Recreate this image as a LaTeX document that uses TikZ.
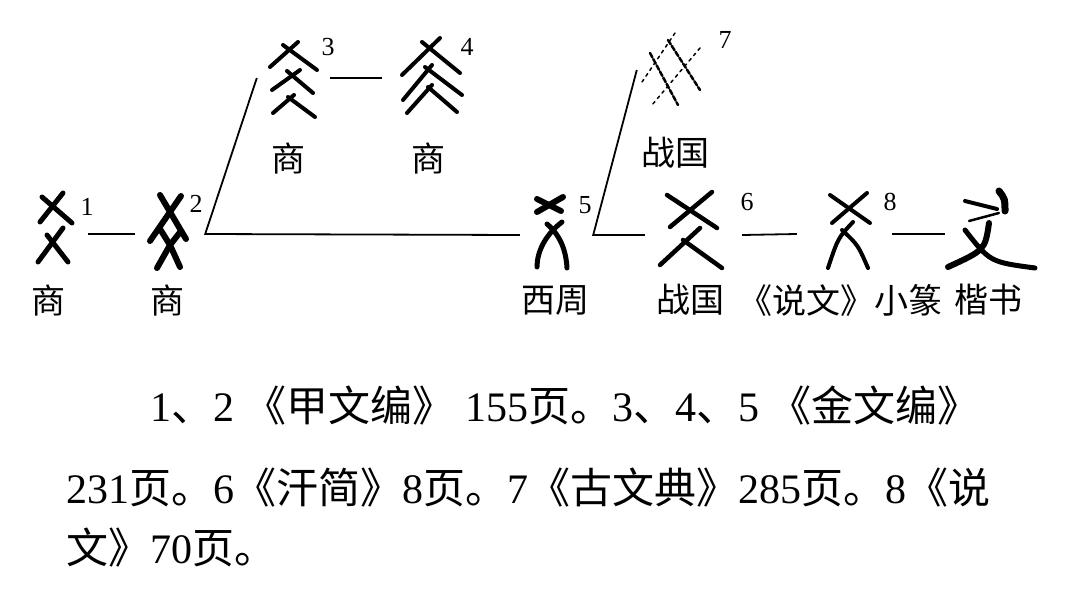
\documentclass[tikz,border=0pt]{standalone}
\usepackage{fontspec}
\setmainfont{Liberation Serif}
\newfontfamily\cjk{Noto Sans CJK SC}

\tikzset{
  glyph/.style={inner sep=0pt,minimum height=80pt},
  stroke/.style={line width=5pt,line cap=round},
  faint/.style={line width=2.5pt,line cap=round,dash pattern=on 5pt off 2pt},
  link/.style={line width=1.8pt},
  idx/.style={font=\fontsize{26}{26}\selectfont,inner sep=0pt},
  era/.style={font=\cjk\fontsize{34}{34}\selectfont,inner sep=0pt},
  note/.style={font=\fontsize{42}{42}\selectfont,inner sep=0pt,anchor=west}
}

\begin{document}
\begin{tikzpicture}[x=1pt,y=-1pt]
\useasboundingbox (0,0) rectangle (1080,597);

% boxes round the glyphs
\node[glyph,minimum width=50] (g1) at (63,234) {};
\node[glyph,minimum width=70] (g2) at (170,234) {};
\node[glyph,minimum width=73] (g3) at (293.5,78) {};
\node[glyph,minimum width=100] (g4) at (432,78) {};
\node[glyph,minimum width=73] (g5) at (556.5,235) {};
\node[glyph,minimum width=97] (g6) at (693.5,235) {};
\node[glyph,minimum width=66] (g7) at (670,70) {};
\node[glyph,minimum width=95] (g8) at (844.5,234) {};
\node[glyph,minimum width=90] (g9) at (990,234) {};

% connectors
\draw[link] (g1.east) -- (g2.west);
\draw[link] (g3.west) -- (g2.east) -- (g5.west);
\draw[link] (g3.east) -- (g4.west);
\draw[link] (g7.west) -- (g5.east) -- (g6.west);
\draw[link] (g6.east) -- (g8.west);
\draw[link] (g8.east) -- (g9.west);

% 1
\draw[stroke] (42,197) -- (72,223);
\draw[stroke] (63,193) -- (40,222);
\draw[stroke] (63,228) -- (38,262);
\draw[stroke] (47,235) -- (68,262);
% 2
\draw[stroke,line width=6pt] (160,195) -- (186,239);
\draw[stroke,line width=6pt] (181,196) -- (150,241);
\draw[stroke,line width=6pt] (160,229) -- (170,245) -- (180,267);
\draw[stroke,line width=6pt] (181,231) -- (170,245) -- (157,268);
% 3
\draw[stroke,line width=4pt] (283,45) -- (317,70);
\draw[stroke,line width=4pt] (298,42) -- (270,67);
\draw[stroke,line width=4pt] (287,71) -- (313,93);
\draw[stroke,line width=4pt] (300,70) -- (272,90);
\draw[stroke,line width=4pt] (288,97) -- (315,117);
\draw[stroke,line width=4pt] (294,95) -- (273,113);
% 4
\draw[stroke,line width=4pt] (440,38) -- (402,75);
\draw[stroke,line width=4pt] (422,42) -- (460,73);
\draw[stroke,line width=4pt] (432,65) -- (403,100);
\draw[stroke,line width=4pt] (425,67) -- (462,95);
\draw[stroke,line width=4pt] (432,85) -- (407,113);
\draw[stroke,line width=4pt] (428,87) -- (457,112);
% 5
\draw[stroke,line width=6pt] (537,199) -- (561,211);
\draw[stroke,line width=6pt] (563,197) -- (537,212);
\draw[stroke] (562,222) .. controls (545,235) and (537,252) .. (537,267);
\draw[stroke] (547,224) .. controls (560,235) and (566,250) .. (567,268);
% 6
\draw[stroke,line width=4.5pt] (667,195) -- (717,228);
\draw[stroke,line width=4.5pt] (712,192) -- (670,227);
\draw[stroke,line width=4.5pt] (700,228) -- (660,265);
\draw[stroke,line width=4.5pt] (683,240) -- (722,268);
% 7
\draw[faint] (650,53) -- (678,105);
\draw[faint] (668,40) -- (700,90);
\draw[faint,line width=1.5pt,dash pattern=on 3pt off 4pt] (675,33) -- (640,85);
\draw[faint,line width=1.5pt,dash pattern=on 3pt off 4pt] (700,48) -- (652,105);
% 8
\draw[stroke,line width=4pt] (830,195) -- (870,223);
\draw[stroke,line width=4pt] (867,193) -- (832,223);
\draw[stroke,line width=4pt] (853,222) .. controls (838,238) .. (828,268);
\draw[stroke,line width=4pt] (842,230) .. controls (858,245) .. (868,268);
% 9
\draw[stroke,line width=4pt] (965,201) -- (997,209);
\draw[stroke,line width=7pt] (999,191) .. controls (1005,199) .. (1005,211);
\draw[stroke,line width=2.5pt] (999,213) -- (969,221);
\draw[stroke,line width=6pt] (989,223) .. controls (985,250) .. (948,267);
\draw[stroke] (965,230) .. controls (990,262) .. (1035,268);

% numbers
\node[idx] (n1) at (87,207) {1};
\node[idx] (n2) at (196,204) {2};
\node[idx] (n3) at (328,47) {3};
\node[idx] (n4) at (467,47) {4};
\node[idx] (n5) at (585,205) {5};
\node[idx] (n6) at (747,202) {6};
\node[idx] (n7) at (725,40) {7};
\node[idx] (n8) at (890,202) {8};

% periods
\node[era] (t1) at (48,300) {商};
\node[era] (t2) at (167,300) {商};
\node[era] (t3) at (288,158) {商};
\node[era] (t4) at (428,158) {商};
\node[era] (t5) at (555,300) {西周};
\node[era] (t6) at (690,300) {战国};
\node[era] (t7) at (675,153) {战国};
\node[era] (t8) at (840,300) {《说文》小篆};
\node[era] (t9) at (988,300) {楷书};

% sources
\node[note] (s1) at (150,405) {1{\cjk 、}2 {\cjk 《甲文编》} 155{\cjk 页。}3{\cjk 、}4{\cjk 、}5 {\cjk 《金文编》}};
\node[note] (s2) at (66,488) {231{\cjk 页。}6{\cjk 《汗简》}8{\cjk 页。}7{\cjk 《古文典》}285{\cjk 页。}8{\cjk 《说}};
\node[note] (s3) at (66,548) {{\cjk 文》}70{\cjk 页。}};
\end{tikzpicture}
\end{document}
